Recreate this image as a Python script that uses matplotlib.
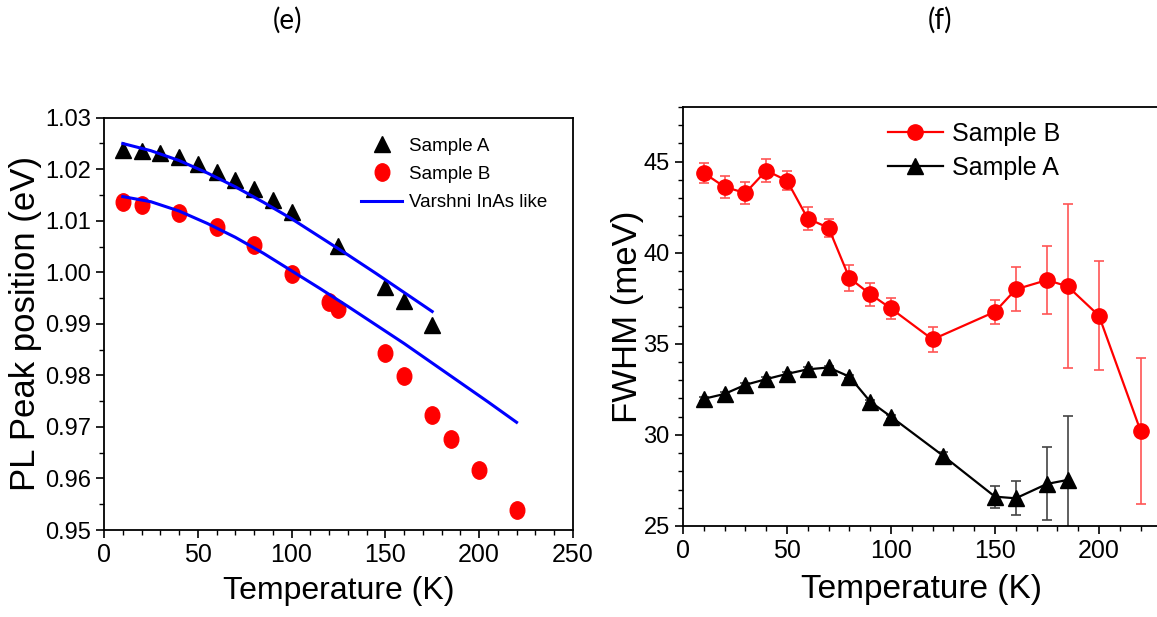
import numpy as np
import matplotlib
matplotlib.use("Agg")
import matplotlib.pyplot as plt
from matplotlib.path import Path
from matplotlib.lines import Line2D

plt.rcParams['font.family'] = ['Liberation Sans', 'DejaVu Sans']

# ---- panel (e): PL peak position ----
temp_a = [10, 20, 30, 40, 50, 60, 70, 80, 90, 100, 125, 150, 160, 175]
peak_a = [1.0237, 1.0235, 1.0231, 1.0223, 1.0210, 1.0195, 1.0179, 1.0161, 1.0140, 1.0118,
          1.0052, 0.9972, 0.9945, 0.9898]
temp_b = [10, 20, 40, 60, 80, 100, 120, 125, 150, 160, 175, 185, 200, 220]
peak_b = [1.0136, 1.0130, 1.0116, 1.0087, 1.0053, 0.9997, 0.9943, 0.9928, 0.9843, 0.9799,
          0.9724, 0.9676, 0.9616, 0.9539]

# Varshni curves
fit_temp_a = [10, 25, 40, 55, 70, 85, 100, 115, 130, 145, 160, 175]
fit_peak_a = [1.0250, 1.0236, 1.0217, 1.0193, 1.0166, 1.0136, 1.0104, 1.0069, 1.0034, 0.9998,
              0.9961, 0.9924]
fit_temp_b = [10, 25, 40, 55, 70, 85, 100, 115, 130, 145, 160, 175, 190, 205, 220]
fit_peak_b = [1.0147, 1.0137, 1.0119, 1.0095, 1.0068, 1.0037, 1.0003, 0.9969, 0.9934, 0.9898,
              0.9862, 0.9824, 0.9786, 0.9748, 0.9709]

# ---- panel (f): FWHM ----
fw_temp_b = [10, 20, 30, 40, 50, 60, 70, 80, 90, 100, 120, 150, 160, 175, 185, 200, 220]
fw_b = [44.38, 43.61, 43.28, 44.51, 43.96, 41.87, 41.37, 38.61, 37.73, 36.94, 35.24, 36.76,
        37.99, 38.50, 38.15, 36.54, 30.22]
fw_err_b = [0.55, 0.6, 0.6, 0.65, 0.5, 0.63, 0.5, 0.7, 0.63, 0.58, 0.68, 0.65, 1.2, 1.87,
            4.5, 3.0, 4.0]
fw_temp_a = [10, 20, 30, 40, 50, 60, 70, 80, 90, 100, 125, 150, 160, 175, 185]
fw_a = [31.98, 32.25, 32.75, 33.06, 33.35, 33.60, 33.70, 33.20, 31.83, 31.00, 28.86, 26.61,
        26.52, 27.31, 27.53]
fw_err_a = [0.1, 0.1, 0.1, 0.1, 0.1, 0.1, 0.1, 0.1, 0.1, 0.1, 0.2, 0.6, 0.93, 2.0, 3.5]


def ellipse_marker():
    circ = Path.unit_circle()
    return Path(circ.vertices * np.array([0.84, 1.0]), circ.codes)


def style_axes(ax):
    ax.tick_params(axis='y', labelsize=17)
    ax.tick_params(axis='x', labelsize=18)
    ax.tick_params(direction='out', length=6, width=1.2, top=False, right=False)
    ax.tick_params(which='minor', direction='out', length=3.5, width=1.0, top=False, right=False)
    for sp in ax.spines.values():
        sp.set_linewidth(1.3)


def plot_peak(ax):
    ell = ellipse_marker()
    ax.plot(temp_a, peak_a, linestyle='none', marker='^', ms=11.5, color='black')
    ax.plot(temp_b, peak_b, linestyle='none', marker=ell, ms=12.5, color='red')
    ax.plot(fit_temp_a, fit_peak_a, color='blue', lw=2.2)
    ax.plot(fit_temp_b, fit_peak_b, color='blue', lw=2.2)
    ax.set_xlim(0, 250)
    ax.set_ylim(0.95, 1.03)
    ax.set_xticks(np.arange(0, 251, 50))
    ax.set_xticks(np.arange(0, 251, 10), minor=True)
    ax.set_yticks(np.arange(0.95, 1.0301, 0.01))
    ax.set_yticks(np.arange(0.95, 1.0301, 0.005), minor=True)
    ax.yaxis.set_major_formatter(matplotlib.ticker.FormatStrFormatter('%.2f'))
    style_axes(ax)
    ax.set_xlabel("Temperature (K)", fontsize=23, labelpad=6)
    ax.set_ylabel("PL Peak position (eV)", fontsize=25, labelpad=2)
    handles = [Line2D([], [], linestyle='none', marker='^', ms=11.5, color='black'),
               Line2D([], [], linestyle='none', marker=ell, ms=12.5, color='red'),
               Line2D([], [], color='blue', lw=2.2)]
    ax.legend(handles, ["Sample A", "Sample B", "Varshni InAs like"], loc='upper left',
              bbox_to_anchor=(0.548, 0.952), borderaxespad=0, borderpad=0, frameon=False,
              fontsize=13.5, handlelength=2.2, handletextpad=0.35, labelspacing=0.6)


def plot_fwhm(ax):
    ax.errorbar(fw_temp_b, fw_b, yerr=fw_err_b, fmt='none', ecolor='#ff5555', elinewidth=1.2,
                capsize=3.5, capthick=1.2)
    ax.errorbar(fw_temp_a, fw_a, yerr=fw_err_a, fmt='none', ecolor='#444444', elinewidth=1.2,
                capsize=3.5, capthick=1.2)
    lb, = ax.plot(fw_temp_b, fw_b, marker='o', ms=11, color='red', lw=1.6)
    la, = ax.plot(fw_temp_a, fw_a, marker='^', ms=12, color='black', lw=1.6)
    ax.set_xlim(0, 229)
    ax.set_ylim(25, 48)
    ax.set_xticks(np.arange(0, 201, 50))
    ax.set_xticks(np.arange(0, 221, 10), minor=True)
    ax.set_yticks(np.arange(25, 46, 5))
    ax.set_yticks(np.arange(25, 48.1, 1), minor=True)
    style_axes(ax)
    ax.set_xlabel("Temperature (K)", fontsize=24, labelpad=8)
    ax.set_ylabel("FWHM (meV)", fontsize=25, labelpad=0)
    ax.legend([lb, la], ["Sample B", "Sample A"], loc='upper left',
              bbox_to_anchor=(0.43, 0.965), borderaxespad=0, borderpad=0, frameon=False,
              fontsize=18, handlelength=2.2, handletextpad=0.35, labelspacing=0.4)


fig = plt.figure(figsize=(11.57, 6.17), dpi=100)
ax1 = fig.add_axes([0.0899, 0.141, 0.4052, 0.6682])
ax2 = fig.add_axes([0.5903, 0.1475, 0.4117, 0.6791])
plot_peak(ax1)
plot_fwhm(ax2)
fig.text(287 / 1157, 1 - 20 / 617, "(e)", ha='center', va='center', fontsize=20, family='Lato')
fig.text(940 / 1157, 1 - 20 / 617, "(f)", ha='center', va='center', fontsize=20, family='Lato')
fig.savefig("out.png", dpi=100)
